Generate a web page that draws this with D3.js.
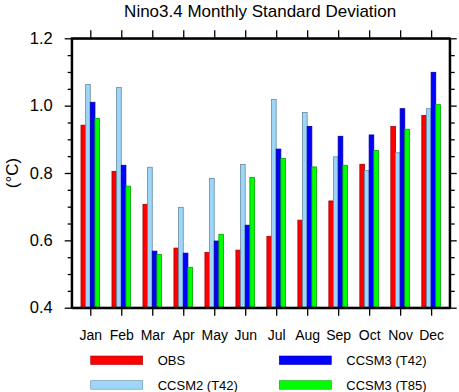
<!DOCTYPE html>
<html>
  <head>
    <meta charset="utf-8">
    <title>Nino3.4 Monthly Standard Deviation</title>
    <script src="https://d3js.org/d3.v7.min.js"></script>
    <style>
      body { margin: 0; background: #fff; }
      svg { font-family: "Liberation Sans", Arial, sans-serif; }
      .axis path, .axis line { stroke: #000; }
      .axis text { fill: #000; }
    </style>
  </head>
  <body>
    <svg id="chart" width="459" height="392"></svg>
    <script>
      // data
      var months = ["Jan", "Feb", "Mar", "Apr", "May", "Jun", "Jul", "Aug", "Sep", "Oct", "Nov", "Dec"];
      var seriesNames = ["OBS", "CCSM2 (T42)", "CCSM3 (T42)", "CCSM3 (T85)"];
      var obs      = [0.942, 0.805, 0.707, 0.577, 0.564, 0.571, 0.612, 0.660, 0.717, 0.826, 0.938, 0.971];
      var ccsm2T42 = [1.063, 1.054, 0.817, 0.698, 0.784, 0.825, 1.018, 0.980, 0.848, 0.807, 0.860, 0.991];
      var ccsm3T42 = [1.010, 0.823, 0.568, 0.562, 0.598, 0.645, 0.871, 0.938, 0.909, 0.913, 0.991, 1.099];
      var ccsm3T85 = [0.962, 0.761, 0.558, 0.520, 0.618, 0.787, 0.843, 0.818, 0.823, 0.867, 0.930, 1.003];
      var colors = ["#ff0000", "#9dd6f8", "#0000ff", "#00ff00"];
      var yMajor = [0.4, 0.6, 0.8, 1.0, 1.2];
      var yMinor = [0.45, 0.5, 0.55, 0.65, 0.7, 0.75, 0.85, 0.9, 0.95, 1.05, 1.1, 1.15];

      var allSeries = [obs, ccsm2T42, ccsm3T42, ccsm3T85];
      var svg = d3.select("#chart");
      var margin = { top: 38.3, right: 9.3, bottom: 84.3, left: 71.7 };
      var width = 459, height = 392;

      var x = d3.scaleLinear().domain([0.4, 12.6]).range([margin.left, width - margin.right]);
      var y = d3.scaleLinear().domain([0.4, 1.2]).range([height - margin.bottom, margin.top]);
      var barW = 0.15;

      // bars
      var groups = svg.append("g").selectAll("g")
          .data(allSeries)
        .enter().append("g")
          .attr("fill", function(d, i) { return colors[i]; })
          .attr("stroke", function(d, i) { return d3.color(colors[i]).darker(1.2); })
          .attr("stroke-width", 0.8);
      groups.each(function(vals, s) {
        d3.select(this).selectAll("rect")
            .data(vals)
          .enter().append("rect")
            .attr("x", function(d, i) { return x(i + 1 + (s - 2) * barW); })
            .attr("width", x(barW) - x(0))
            .attr("y", function(d) { return y(d); })
            .attr("height", function(d) { return y(0.4) - y(d); });
      });

      // axes
      var monthTicks = d3.range(1, 13);
      var bottom = svg.append("g").attr("class", "axis")
          .attr("transform", "translate(0," + y(0.4) + ")")
          .call(d3.axisBottom(x).tickValues(monthTicks).tickSizeInner(8).tickSizeOuter(0).tickPadding(14)
            .tickFormat(function(d) { return months[d - 1]; }));
      bottom.selectAll("text").attr("font-size", 14).attr("font-family", null);
      var top = svg.append("g").attr("class", "axis")
          .attr("transform", "translate(0," + y(1.2) + ")")
          .call(d3.axisTop(x).tickValues(monthTicks).tickSizeInner(8).tickSizeOuter(0).tickFormat(""));

      var left = svg.append("g").attr("class", "axis")
          .attr("transform", "translate(" + x(0.4) + ",0)")
          .call(d3.axisLeft(y).tickValues(yMajor).tickSizeInner(7).tickSizeOuter(0).tickPadding(12)
            .tickFormat(d3.format(".1f")));
      left.selectAll("text").attr("font-size", 16.5).attr("font-family", null);
      svg.append("g").attr("class", "axis")
          .attr("transform", "translate(" + x(0.4) + ",0)")
          .call(d3.axisLeft(y).tickValues(yMinor).tickSizeInner(4).tickSizeOuter(0).tickFormat(""))
          .select(".domain").remove();
      svg.append("g").attr("class", "axis")
          .attr("transform", "translate(" + x(12.6) + ",0)")
          .call(d3.axisRight(y).tickValues(yMajor).tickSizeInner(7).tickSizeOuter(0).tickFormat(""));
      svg.append("g").attr("class", "axis")
          .attr("transform", "translate(" + x(12.6) + ",0)")
          .call(d3.axisRight(y).tickValues(yMinor).tickSizeInner(5).tickSizeOuter(0).tickFormat(""))
          .select(".domain").remove();

      svg.selectAll(".axis .domain").attr("stroke-width", 2);
      svg.selectAll(".axis line").attr("stroke-width", 1.3);
      // close frame corners
      svg.append("rect")
          .attr("x", x(0.4)).attr("y", y(1.2))
          .attr("width", x(12.6) - x(0.4)).attr("height", y(0.4) - y(1.2))
          .attr("fill", "none").attr("stroke", "#000").attr("stroke-width", 2);

      // title and y label
      svg.append("text")
          .attr("x", (x(0.4) + x(12.6)) / 2 - 0.5).attr("y", 17)
          .attr("text-anchor", "middle").attr("font-size", 17)
          .text("Nino3.4 Monthly Standard Deviation");
      svg.append("text")
          .attr("transform", "translate(18," + ((y(0.4) + y(1.2)) / 2) + ") rotate(-90)")
          .attr("text-anchor", "middle").attr("font-size", 17)
          .text("(°C)");

      // legend
      var legendX = [90.7, 279.3], legendY = [356, 380.7];
      var legend = svg.append("g").selectAll("g")
          .data(seriesNames)
        .enter().append("g")
          .attr("transform", function(d, i) {
            return "translate(" + legendX[Math.floor(i / 2)] + "," + legendY[i % 2] + ")";
          });
      legend.append("rect")
          .attr("width", 52).attr("height", 8.5)
          .attr("fill", function(d, i) { return colors[i]; })
          .attr("stroke", function(d, i) { return d3.color(colors[i]).darker(1.2); })
          .attr("stroke-width", 0.6);
      legend.append("text")
          .attr("x", 67).attr("y", 4.3).attr("dy", "0.35em")
          .attr("font-size", 13)
          .text(function(d) { return d; });
    </script>
  </body>
</html>
